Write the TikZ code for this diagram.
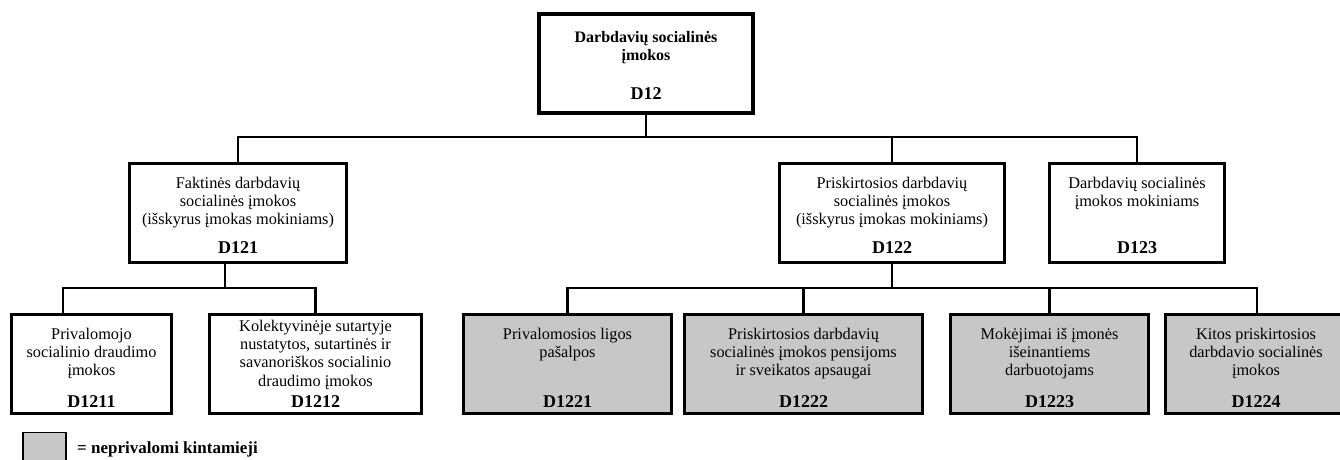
\documentclass[tikz,border=0pt]{standalone}
\usepackage{fontspec}
\setmainfont{Liberation Serif}
\begin{document}
\begin{tikzpicture}[x=1pt,y=-1pt,
  box/.style={draw, line width=2.8pt, inner sep=0pt, outer sep=0pt, fill=white},
  topbox/.style={box, line width=4pt},
  optbox/.style={box, fill=black!22},
  lbl/.style={anchor=north, align=center, inner sep=0pt, font=\fontsize{16.3}{18.3}\selectfont},
  code/.style={anchor=base, inner sep=0pt, font=\fontsize{18}{18.3}\selectfont\bfseries},
  conn/.style={line width=2.7pt, line join=miter}]
\useasboundingbox (0,0) rectangle (1340,460);
% ---- boxes
\node[topbox, minimum width=214pt, minimum height=99pt] (d12) at (646,63.5) {};
\node[box, minimum width=217pt, minimum height=99pt] (d121) at (238,213) {};
\node[box, minimum width=225pt, minimum height=99pt] (d122) at (892,213) {};
\node[box, minimum width=175pt, minimum height=99pt] (d123) at (1137,213) {};
\node[box, minimum width=160pt, minimum height=99pt] (d1211) at (91.5,364) {};
\node[box, minimum width=212pt, minimum height=99pt] (d1212) at (315.5,364) {};
\node[optbox, minimum width=208pt, minimum height=99pt] (d1221) at (567.5,364) {};
\node[optbox, minimum width=238pt, minimum height=99pt] (d1222) at (803.5,364) {};
\node[optbox, minimum width=198pt, minimum height=99pt] (d1223) at (1049.5,364) {};
\node[optbox, minimum width=183pt, minimum height=99pt] (d1224) at (1257,364) {};
% ---- texts
\node[lbl, font=\fontsize{16}{18.3}\selectfont\bfseries] (d12t) at (646,30) {\rule{0pt}{12pt}Darbdavių socialinės\\įmokos};
\node[code] (d12c) at (646,99) {D12};
\node[lbl] (d121t) at (238,176) {\rule{0pt}{12pt}Faktinės darbdavių\\socialinės įmokos\\(išskyrus įmokas mokiniams)};
\node[code] (d121c) at (238,253) {D121};
\node[lbl] (d122t) at (892,176) {\rule{0pt}{12pt}Priskirtosios darbdavių\\socialinės įmokos\\(išskyrus įmokas mokiniams)};
\node[code] (d122c) at (892,253) {D122};
\node[lbl] (d123t) at (1137,176) {\rule{0pt}{12pt}Darbdavių socialinės\\įmokos mokiniams};
\node[code] (d123c) at (1137,253) {D123};
\node[lbl] (d1211t) at (91.5,327) {\rule{0pt}{12pt}Privalomojo\\socialinio draudimo\\įmokos};
\node[code] (d1211c) at (91.5,407) {D1211};
\node[lbl] (d1212t) at (315.5,319) {\rule{0pt}{12pt}Kolektyvinėje sutartyje\\nustatytos, sutartinės ir\\savanoriškos socialinio\\draudimo įmokos};
\node[code] (d1212c) at (315.5,407) {D1212};
\node[lbl] (d1221t) at (567.5,327) {\rule{0pt}{12pt}Privalomosios ligos\\pašalpos};
\node[code] (d1221c) at (567.5,407) {D1221};
\node[lbl] (d1222t) at (803.5,327) {\rule{0pt}{12pt}Priskirtosios darbdavių\\socialinės įmokos pensijoms\\ir sveikatos apsaugai};
\node[code] (d1222c) at (803.5,407) {D1222};
\node[lbl] (d1223t) at (1049.5,327) {\rule{0pt}{12pt}Mokėjimai iš įmonės\\išeinantiems\\darbuotojams};
\node[code] (d1223c) at (1049.5,407) {D1223};
\node[lbl] (d1224t) at (1256,327) {\rule{0pt}{12pt}Kitos priskirtosios\\darbdavio socialinės\\įmokos};
\node[code] (d1224c) at (1256,407) {D1224};
% ---- connectors
\coordinate (b0) at (646,137);
\coordinate (b1) at (225,288);
\coordinate (c1211) at (63,288);
\coordinate (b2) at (892,288);
\draw[conn] (d12.south) -- (b0);
\draw[conn] (d121.north) |- (b0) -| (d123.north);
\draw[conn] (d122.north) -- (d122.north |- b0);
\draw[conn] (b1 |- d121.south) -- (b1);
\draw[conn] (c1211 |- d1211.north) -- (c1211) -| (d1212.north);
\draw[conn] (d122.south) -- (b2);
\draw[conn] (d1221.north) |- (b2) -| (d1224.north);
\draw[conn] (d1222.north) -- (d1222.north |- b2);
\draw[conn] (d1223.north) -- (d1223.north |- b2);
% ---- legend
\node[draw, line width=1.8pt, fill=black!22, inner sep=0pt, outer sep=0pt, minimum width=43pt, minimum height=29pt] (leg) at (44.5,447) {};
\node[anchor=base west, inner sep=0pt, font=\fontsize{17}{18.3}\selectfont\bfseries] (legt) at (77,453) {= neprivalomi kintamieji};
\end{tikzpicture}
\end{document}
